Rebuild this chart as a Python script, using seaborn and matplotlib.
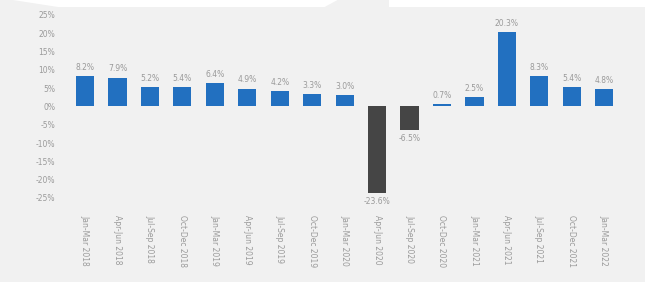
import matplotlib
matplotlib.use("Agg")
import matplotlib.pyplot as plt
import seaborn as sns
import pandas as pd
from matplotlib.patches import Polygon

quarters = ["Jan-Mar 2018", "Apr-Jun 2018", "Jul-Sep 2018", "Oct-Dec 2018",
            "Jan-Mar 2019", "Apr-Jun 2019", "Jul-Sep 2019", "Oct-Dec 2019",
            "Jan-Mar 2020", "Apr-Jun 2020", "Jul-Sep 2020", "Oct-Dec 2020",
            "Jan-Mar 2021", "Apr-Jun 2021", "Jul-Sep 2021", "Oct-Dec 2021",
            "Jan-Mar 2022"]
growth = [8.2, 7.9, 5.2, 5.4, 6.4, 4.9, 4.2, 3.3, 3.0, -23.6, -6.5, 0.7,
          2.5, 20.3, 8.3, 5.4, 4.8]
y_ticks = [25, 20, 15, 10, 5, 0, -5, -10, -15, -20, -25]

sns.set_theme(style="white")
plt.rcParams['font.family'] = ['DejaVu Sans']

BG = "#f1f1f1"
BLUE = "#2270c0"
DARK = "#454545"
TXT = "#9a9a9a"

df = pd.DataFrame({"quarter": quarters, "growth": growth})
df["sign"] = ["neg" if v < 0 else "pos" for v in growth]

fig = plt.figure(figsize=(6.49, 2.82), dpi=100)
fig.patch.set_facecolor(BG)
ax = fig.add_axes([0.096, 0.298, 0.870, 0.649])
ax.set_facecolor(BG)

sns.barplot(data=df, x="quarter", y="growth", hue="sign",
            palette={"pos": BLUE, "neg": DARK}, dodge=False, width=0.56,
            legend=False, ax=ax, saturation=1, linewidth=0)

for cont in ax.containers:
    vals = [b.get_height() for b in cont]
    labels = [f"{v:.1f}%" if v == v else "" for v in vals]
    ax.bar_label(cont, labels=labels, padding=3, fontsize=5.5, color=TXT)

ax.set_xlim(-0.7, 16.7)
ax.set_ylim(-25, 25)
ax.set_yticks(y_ticks)
ax.set_yticklabels([f"{t}%" for t in y_ticks], fontsize=5.5, color=TXT)
ax.tick_params(axis="y", length=0, pad=5)
ax.tick_params(axis="x", length=0, pad=12)
ax.set_xticks(range(len(quarters)))
ax.set_xticklabels(quarters, rotation=-90, fontsize=5.5, color=TXT, ha="center", va="top")
ax.set_xlabel("")
ax.set_ylabel("")
for s in ax.spines.values():
    s.set_visible(False)

# white screenshot artefacts at top and right edge
fig.patches.append(Polygon([(0.02, 1.0), (0.52, 1.0), (0.50, 0.975), (0.09, 0.975)],
                           closed=True, transform=fig.transFigure,
                           facecolor="white", edgecolor="none", zorder=0.5))
fig.patches.append(Polygon([(0.60, 1.0), (1.0, 1.0), (1.0, 0.975), (0.60, 0.975)],
                           closed=True, transform=fig.transFigure,
                           facecolor="white", edgecolor="none", zorder=0.5))
fig.patches.append(Polygon([(0.994, 0.0), (1.0, 0.0), (1.0, 1.0), (0.994, 1.0)],
                           closed=True, transform=fig.transFigure,
                           facecolor="white", edgecolor="none", zorder=0.5))

fig.savefig("out.png", dpi=100, facecolor=BG)
